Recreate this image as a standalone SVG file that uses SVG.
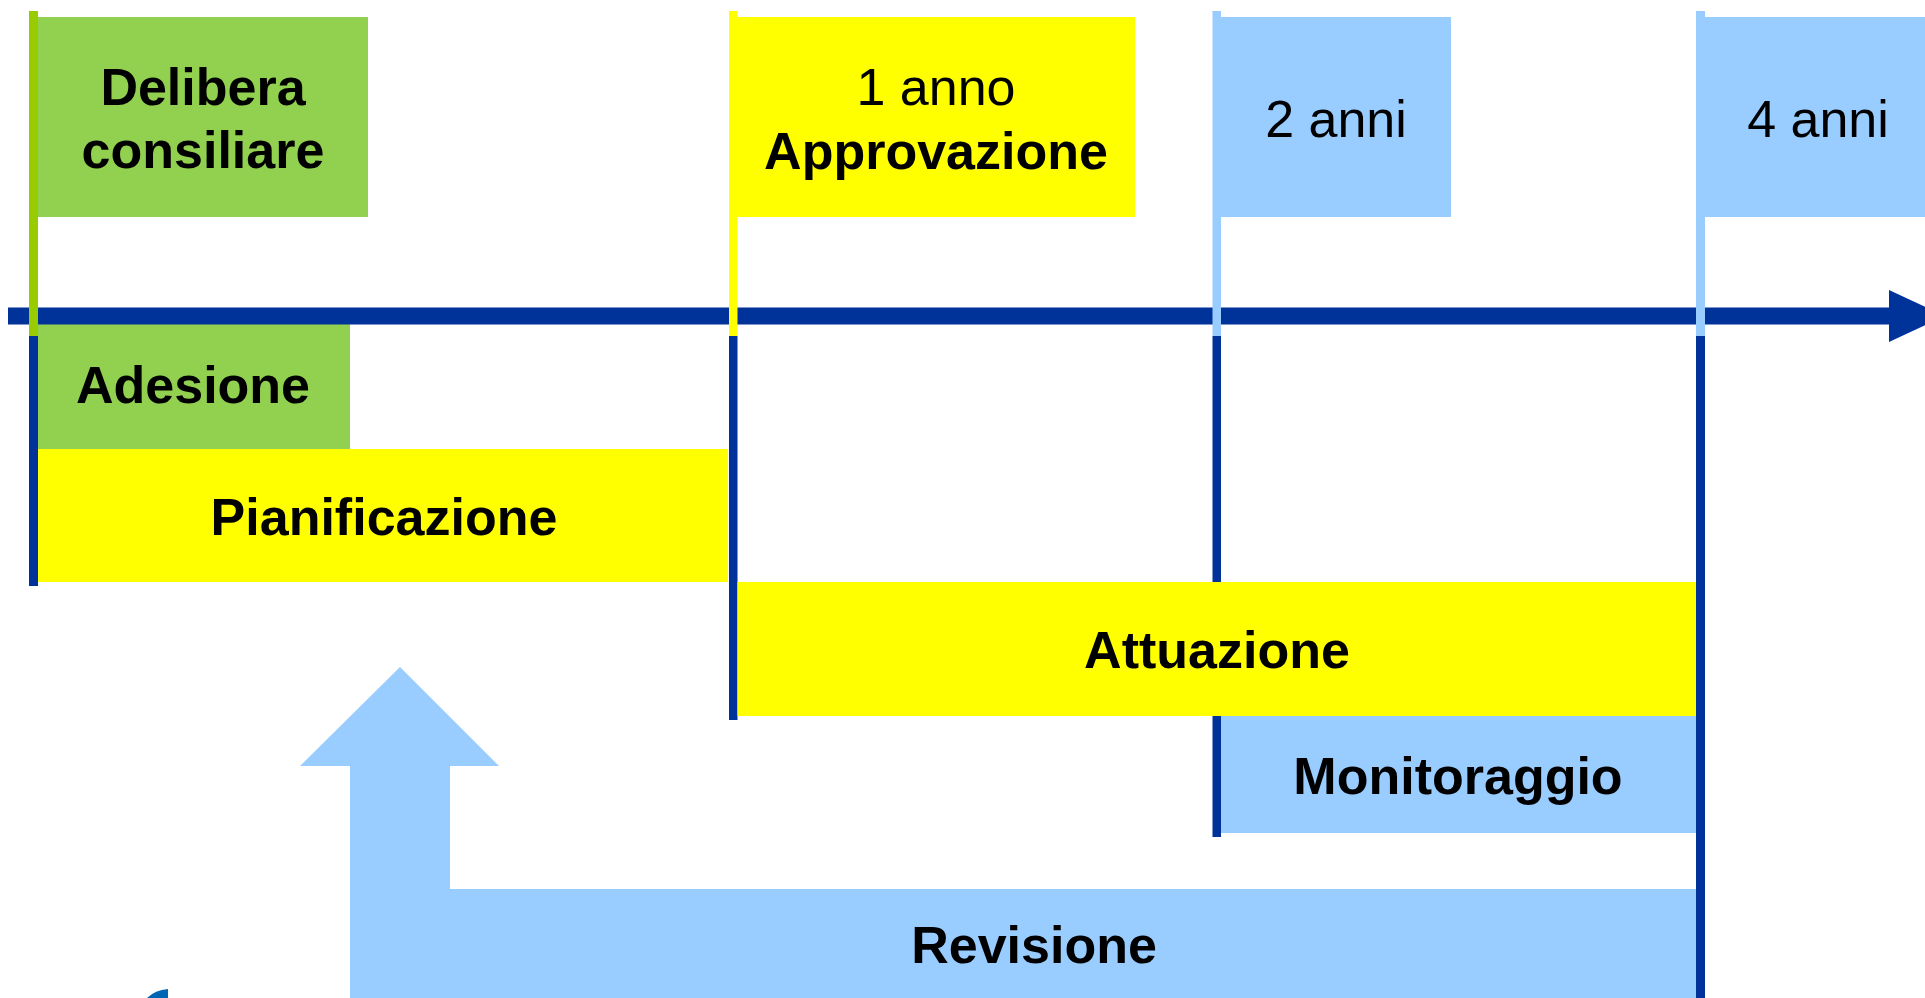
<svg xmlns="http://www.w3.org/2000/svg" width="1925" height="998" viewBox="0 0 1925 998">
<style>
.t{font-family:"Liberation Sans",Arial,sans-serif;font-size:52px;fill:#000;text-anchor:middle}
.b{font-weight:bold}
.green{fill:#92D050}
.yellow{fill:#FFFF00}
.lblue{fill:#99CCFF}
.dblue{fill:#003399}
</style>
<rect width="1925" height="998" fill="#fff"/>

<g id="flag-delibera">
<rect class="green" x="38" y="17" width="330" height="200"/>
<text class="t b" x="203" y="105">Delibera</text>
<text class="t b" x="203" y="168">consiliare</text>
</g>
<g id="flag-1anno">
<rect class="yellow" x="737" y="17" width="398" height="200"/>
<text class="t" x="936" y="105">1 anno</text>
<text class="t b" x="936" y="169">Approvazione</text>
</g>
<g id="flag-2anni">
<rect class="lblue" x="1221" y="17" width="230" height="200"/>
<text class="t" x="1336" y="137">2 anni</text>
</g>
<g id="flag-4anni">
<rect class="lblue" x="1704" y="17" width="230" height="200"/>
<text class="t" x="1818" y="137">4 anni</text>
</g>

<g id="adesione">
<rect class="green" x="38" y="324" width="312" height="125"/>
<text class="t b" x="193" y="403">Adesione</text>
</g>
<g id="pianificazione">
<rect class="yellow" x="38" y="449" width="690" height="133"/>
<text class="t b" x="384" y="535">Pianificazione</text>
</g>

<g id="connectors">
<rect class="dblue" x="8" y="307.5" width="1882" height="17"/>
<polygon class="dblue" points="1889,290 1945,316 1889,342"/>
<rect class="dblue" x="29" y="336" width="9" height="250"/>
<rect class="dblue" x="729" y="336" width="8.5" height="384"/>
<rect class="dblue" x="1212.5" y="336" width="8.5" height="501"/>
<rect class="dblue" x="1696" y="336" width="9" height="662"/>
<rect fill="#99CC00" x="29" y="11" width="9" height="325"/>
<rect class="yellow" x="729" y="11" width="8.5" height="325"/>
<rect class="lblue" x="1212.5" y="11" width="8.5" height="325"/>
<rect class="lblue" x="1696" y="11" width="9" height="325"/>
</g>

<g id="attuazione">
<rect class="yellow" x="737.5" y="582" width="958.5" height="134"/>
<text class="t b" x="1217" y="668">Attuazione</text>
</g>
<g id="monitoraggio">
<rect class="lblue" x="1221" y="716" width="475" height="117"/>
<text class="t b" x="1458" y="794">Monitoraggio</text>
</g>
<g id="revisione">
<path class="lblue" d="M400,667 L499,766 L450,766 L450,889 L1696,889 L1696,998 L350,998 L350,766 L300,766 Z"/>
<text class="t b" x="1034" y="963">Revisione</text>
</g>
<path fill="#0066B3" d="M147,998 Q155,990 168,989 L168,998 Z"/>
</svg>
